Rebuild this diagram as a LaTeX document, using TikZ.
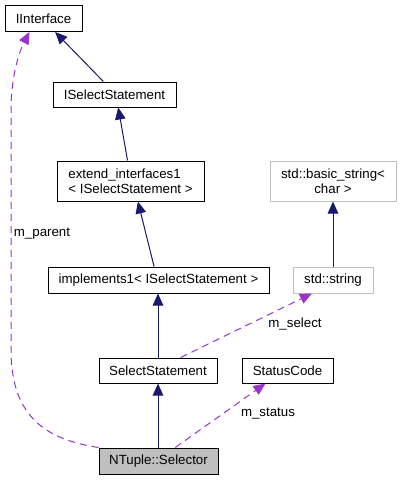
\documentclass[tikz,border=0pt]{standalone}
\usepackage{fontspec}
\setmainfont{Liberation Sans}
\usetikzlibrary{arrows.meta,calc}
\definecolor{edgeblue}{HTML}{191970}
\definecolor{edgepurple}{HTML}{9A32CD}
\definecolor{lightborder}{HTML}{BFBFBF}
\begin{document}
\begin{tikzpicture}[x=1pt,y=-1pt,
  font=\fontsize{13.3}{14.5}\selectfont,
  box/.style={draw=black, line width=1pt, minimum height=26pt, inner sep=0pt, fill=white},
  gbox/.style={draw=lightborder, line width=1pt, minimum height=26pt, inner sep=0pt, fill=white},
  inh/.style={edgeblue, line width=1pt, -{Triangle[length=12pt,width=10.5pt]}},
  usage/.style={edgepurple, line width=1pt, dash pattern=on 7pt off 5pt, -{Triangle[length=12pt,width=10.5pt]}},
  lbl/.style={inner sep=0pt}]
\useasboundingbox (0,0) rectangle (401,480);

\node[box, minimum width=77pt] (iif) at (43.5,18.5) {IInterface};
\node[box, minimum width=123pt, minimum height=25pt] (isel) at (114.5,94.5) {ISelectStatement};
\node[box, minimum width=147pt, minimum height=40pt, align=left] (ext) at (130.5,181) {extend\_interfaces1\\< ISelectStatement >};
\node[box, minimum width=221pt] (impl) at (158.5,280) {implements1< ISelectStatement >};
\node[gbox, minimum width=126pt, minimum height=40pt, align=center] (bstr) at (333,181) {std::basic\_string<\\char >};
\node[gbox, minimum width=80pt] (str) at (333,280) {std::string};
\node[box, minimum width=118pt, minimum height=25pt] (sel) at (158,370.5) {SelectStatement};
\node[box, minimum width=91pt, minimum height=25pt] (stat) at (287.5,370.5) {StatusCode};
\node[box, fill=lightborder, minimum width=119pt] (nts) at (158.5,461) {NTuple::Selector};

% inheritance
\draw[inh] ($(isel.north west)!0.41!(isel.north east)$) -- ($(iif.south west)!0.65!(iif.south east)$);
\draw[inh] ($(ext.north west)!0.48!(ext.north east)$) -- ($(isel.south west)!0.53!(isel.south east)$);
\draw[inh] ($(impl.north west)!0.48!(impl.north east)$) -- ($(ext.south west)!0.55!(ext.south east)$);
\draw[inh] (sel.north) -- (sel.north |- impl.south);
\draw[inh] (sel.south |- nts.north) -- (sel.south);
\draw[inh] (str.north) -- (bstr.south);

% usage
\draw[usage] ($(sel.north west)!0.69!(sel.north east)$) -- ($(str.south west)!0.24!(str.south east)$);
\draw[usage] ($(nts.north west)!0.64!(nts.north east)$) -- ($(stat.south west)!0.26!(stat.south east)$);
\draw[usage] (nts.north west) .. controls (50,440) and (11,420) .. (11,350) -- (11,110) .. controls (11,75) and (20,50) .. ($(iif.south west)!0.32!(iif.south east)$);

\node[lbl] (lpar) at (42,234) {m\_parent};
\node[lbl] (lsel) at (295,324) {m\_select};
\node[lbl] (lsta) at (268,414) {m\_status};
\end{tikzpicture}
\end{document}
